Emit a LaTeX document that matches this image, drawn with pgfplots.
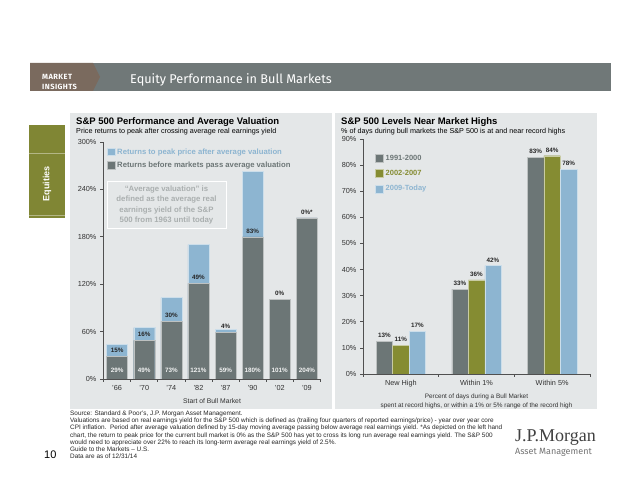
\documentclass[border=0pt]{standalone}
\usepackage{fontspec}
\setmainfont{Liberation Sans}
\newfontfamily\fira{Fira Sans}
\newfontfamily\jpserif{Liberation Serif}
\usepackage{pgfplots}
\pgfplotsset{compat=1.18}
\definecolor{dgray}{RGB}{108,118,118}
\definecolor{lblue}{RGB}{141,181,209}
\definecolor{olive}{RGB}{133,140,50}
\definecolor{panel}{RGB}{228,231,232}
\definecolor{hdr}{RGB}{112,120,120}
\definecolor{hbrown}{RGB}{122,106,94}
\definecolor{tabgreen}{RGB}{128,134,52}
\definecolor{axisgray}{RGB}{80,80,80}
\definecolor{labgray}{RGB}{50,50,50}
\definecolor{boxtext}{RGB}{170,175,175}
\begin{document}
\begin{tikzpicture}[x=1pt,y=1pt]
\useasboundingbox (0,0) rectangle (640,495);
\fill[white] (0,0) rectangle (640,495);
% header
\fill[hdr] (30,432) rectangle (611,404);
\fill[hbrown] (30,432) -- (93,432) -- (100,418) -- (93,404) -- (30,404) -- cycle;
\node[anchor=base west, text=white, inner sep=0, font=\fira\fontsize{12.7}{12.7}\selectfont] at (130,411) {Equity Performance in Bull Markets};
\node[anchor=base west, text=white, inner sep=0, font=\fira\bfseries\fontsize{7.5}{7.5}\selectfont\addfontfeatures{LetterSpace=6}] at (42,415) {MARKET};
\node[anchor=base west, text=white, inner sep=0, font=\fira\bfseries\fontsize{7.5}{7.5}\selectfont\addfontfeatures{LetterSpace=6}] at (42,405.5) {INSIGHTS};
% tab
\fill[tabgreen] (29,370) rectangle (65,277);
\draw[white!40!tabgreen, line width=0.6pt] (29,342) -- (65,342);
\draw[white!40!tabgreen, line width=0.6pt] (29,280) -- (65,280);
\node[rotate=90, text=white, font=\bfseries\fontsize{9}{9}\selectfont] at (47,311) {Equities};
% panels
\fill[panel] (70,382) rectangle (332,86);
\fill[panel] (335,382) rectangle (597,86);
% titles
\node[anchor=base west, inner sep=0, font=\bfseries\fontsize{9.5}{10}\selectfont] at (76,370) {S\&P 500 Performance and Average Valuation};
\node[anchor=base west, inner sep=0, font=\fontsize{7.2}{7.5}\selectfont] at (76,361) {Price returns to peak after crossing average real earnings yield};
\node[anchor=base west, inner sep=0, font=\bfseries\fontsize{9.5}{10}\selectfont] at (341,370) {S\&P 500 Levels Near Market Highs};
\node[anchor=base west, inner sep=0, font=\fontsize{7.2}{7.5}\selectfont] at (341,361) {\% of days during bull markets the S\&P 500 is at and near record highs};

% left chart
\begin{axis}[
  at={(103pt,116pt)}, anchor=south west, scale only axis,
  width=218pt, height=237pt,
  xmin=-0.52, xmax=7.52, ymin=0, ymax=300,
  ybar, bar width=21pt,
  axis lines=left, axis line style={-, draw=axisgray, line width=0.8pt},
  ytick={0,60,...,300}, yticklabel={\pgfmathprintnumber{\tick}\%},
  xtick={0,...,7}, xticklabels={’66,’70,’74,’82,’87,’90,’02,’09},
  minor xtick={-0.5,0.5,...,7.5},
  tick align=outside, major tick length=3pt, minor tick length=3pt,
  major x tick style={draw=none},
  tick style={draw=axisgray, line width=0.6pt},
  ticklabel style={font=\fontsize{7.3}{7.3}\selectfont, text=labgray},
  /pgf/number format/assume math mode=true,
  xlabel={Start of Bull Market},
  xlabel style={font=\fontsize{6.8}{7}\selectfont, text=labgray, yshift=-1pt},
  legend style={at={(0.005,0.99)}, anchor=north west, draw=none, fill=none,
    font=\bfseries\fontsize{7.7}{8}\selectfont, row sep=2.5pt},
  legend cell align=left,
  legend image code/.code={\fill[#1] (0pt,-3.5pt) rectangle (7.5pt,4pt);},
]
\addplot[fill=lblue, draw=white!55!lblue, bar shift=0pt] coordinates {(0,44) (1,65) (2,103) (3,170) (4,63) (5,263) (6,101) (7,204)};
\addlegendentry{\textcolor{lblue}{Returns to peak price after average valuation}}
\addplot[fill=dgray, draw=white!55!dgray, bar shift=0pt, nodes near coords, point meta=explicit symbolic,
  every node near coord/.append style={text=black!85, font=\bfseries\fontsize{6.3}{6.3}\selectfont, anchor=south}]
  coordinates {(0,29)[15\%] (1,49)[16\%] (2,73)[30\%] (3,121)[49\%] (4,59)[4\%] (5,180)[83\%] (6,101)[0\%] (7,204)[0\%*]};
\addlegendentry{\textcolor{dgray}{Returns before markets pass average valuation}}
\addplot[forget plot, draw=none, fill=none, bar shift=0pt, nodes near coords, point meta=explicit symbolic,
  every node near coord/.append style={text=white!92!dgray, font=\bfseries\fontsize{6.3}{6.3}\selectfont, anchor=south, yshift=2.5pt}]
  coordinates {(0,0)[29\%] (1,0)[49\%] (2,0)[73\%] (3,0)[121\%] (4,0)[59\%] (5,0)[180\%] (6,0)[101\%] (7,0)[204\%]};
\end{axis}
\node[draw=white, line width=1pt, minimum width=119pt, minimum height=47pt, align=center, text=boxtext,
  font=\bfseries\fontsize{7.8}{10.6}\selectfont, inner sep=0pt] at (166.5,290) {“Average valuation” is\\defined as the average real\\earnings yield of the S\&P\\500 from 1963 until today};

% right chart
\begin{axis}[
  at={(363pt,121pt)}, anchor=south west, scale only axis,
  width=227pt, height=235pt,
  xmin=-0.5, xmax=2.5, ymin=0, ymax=90,
  ybar=0pt, bar width=16.5pt,
  axis lines=left, axis line style={-, draw=axisgray, line width=0.8pt},
  ytick={0,10,...,90}, yticklabel={\pgfmathprintnumber{\tick}\%},
  xtick={0,1,2}, xticklabels={New High, Within 1\%, Within 5\%},
  minor xtick={-0.5,0.5,1.5,2.5},
  tick align=outside, major tick length=3pt, minor tick length=3pt,
  major x tick style={draw=none},
  tick style={draw=axisgray, line width=0.6pt},
  ticklabel style={font=\fontsize{7.3}{7.3}\selectfont, text=labgray},
  /pgf/number format/assume math mode=true,
  xlabel={Percent of days during a Bull Market\\spent at record highs, or within a 1\% or 5\% range of the record high},
  xlabel style={align=center, font=\fontsize{6.4}{8.8}\selectfont, text=labgray},
  nodes near coords, point meta=explicit symbolic,
  every node near coord/.append style={text=black!85, font=\bfseries\fontsize{6.3}{6.3}\selectfont},
  legend style={at={(0.04,0.95)}, anchor=north west, draw=none, fill=none,
    font=\bfseries\fontsize{7.5}{8}\selectfont, row sep=4.5pt},
  legend cell align=left,
  legend image code/.code={\fill[#1] (0pt,-4pt) rectangle (8pt,4pt);},
]
\addplot[fill=dgray, draw=white!55!dgray] coordinates {(0,12.5)[13\%] (1,32.5)[33\%] (2,83)[83\%]};
\addlegendentry{\textcolor{dgray}{1991-2000}}
\addplot[fill=olive, draw=white!55!olive] coordinates {(0,11)[11\%] (1,36)[36\%] (2,83.6)[84\%]};
\addlegendentry{\textcolor{olive}{2002-2007}}
\addplot[fill=lblue, draw=white!55!lblue] coordinates {(0,16.4)[17\%] (1,41.5)[42\%] (2,78.4)[78\%]};
\addlegendentry{\textcolor{lblue}{2009-Today}}
\end{axis}

% footer
\node[anchor=north west, align=left, inner sep=0pt, text=black!85, font=\fontsize{6.4}{7.25}\selectfont] at (70,84.5) {Source: Standard \& Poor's, J.P. Morgan Asset Management.\\
Valuations are based on real earnings yield for the S\&P 500 which is defined as (trailing four quarters of reported earnings/price) - year over year core\\
CPI inflation.\ \ Period after average valuation defined by 15-day moving average passing below average real earnings yield. *As depicted on the left hand\\
chart, the return to peak price for the current bull market is 0\% as the S\&P 500 has yet to cross its long run average real earnings yield. The S\&P 500\\
would need to appreciate over 22\% to reach its long-term average real earnings yield of 2.5\%.\\
Guide to the Markets – U.S.\\
Data are as of 12/31/14};
\node[anchor=base west, inner sep=0pt, font=\fontsize{11}{11}\selectfont] at (44,36) {10};
\node[anchor=base west, inner sep=0pt, text=black!75, font=\jpserif\fontsize{18}{18}\selectfont] at (515,53) {J.P.Morgan};
\node[anchor=base west, inner sep=0pt, text=black!55, font=\fira\fontsize{9}{9}\selectfont] at (515,40) {Asset Management};
\end{tikzpicture}
\end{document}
